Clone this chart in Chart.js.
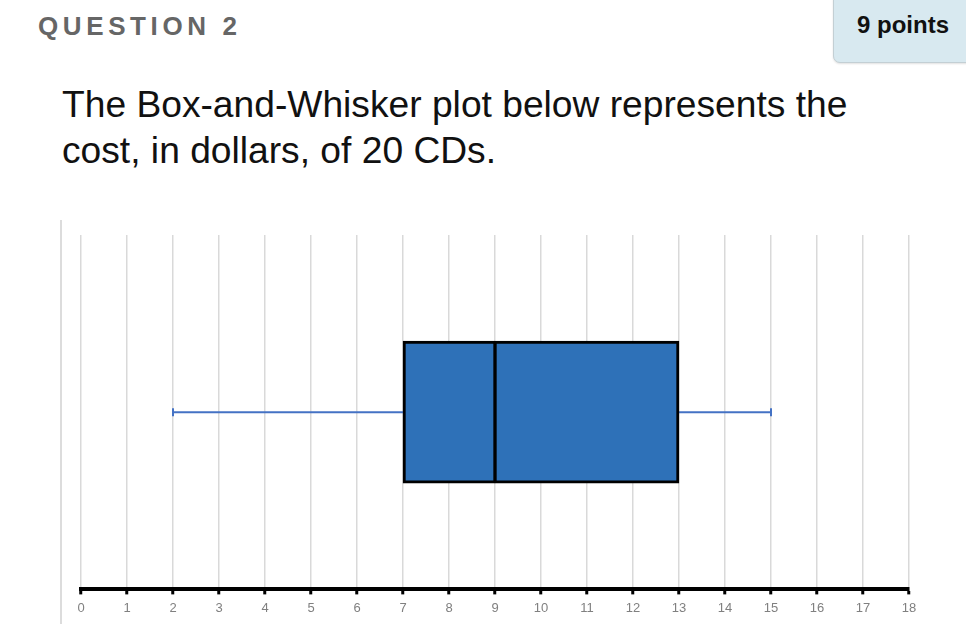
<!DOCTYPE html>
<html>
<head>
<meta charset="utf-8">
<script src="https://cdn.jsdelivr.net/npm/chart.js@4/dist/chart.umd.min.js"></script>
<style>
  html, body { margin: 0; padding: 0; background: #fff; width: 966px; height: 624px; overflow: hidden; }
  body { position: relative; font-family: "Liberation Sans", Arial, Helvetica, sans-serif; }
  .qhead { position: absolute; left: 38px; top: 11px; font-size: 26px; line-height: 30px; font-weight: bold; color: #666; letter-spacing: 4.6px; }
  .points { position: absolute; left: 833px; top: -8px; width: 150px; height: 69px; background: #d8e9f0; border: 1px solid #c3cfd4; border-radius: 7px; box-shadow: 0 1px 2px rgba(0,0,0,0.12); }
  .points span { position: absolute; left: 23px; top: 18px; font-size: 24px; font-weight: bold; color: #111; }
  .question { position: absolute; left: 62px; top: 81px; font-size: 37.2px; line-height: 46px; color: #111; }
  .frame { position: absolute; left: 60px; top: 220px; width: 904px; height: 404px; border-left: 2px solid #dcdcdc; }
  .frame canvas { position: absolute; left: 0; top: 0; }
</style>
</head>
<body>
<div class="qhead">QUESTION 2</div>
<div class="points"><span>9 points</span></div>
<div class="question">The Box-and-Whisker plot below represents the<br>cost, in dollars, of 20 CDs.</div>
<div class="frame"><canvas id="c" width="904" height="404"></canvas></div>
<script>
// Five-number summary of CD prices (dollars)
const category = ['CDs'];
const minimum = [2];
const lowerQuartile = [7];
const median = [9];
const upperQuartile = [13];
const maximum = [15];
const tickValues = [0, 1, 2, 3, 4, 5, 6, 7, 8, 9, 10, 11, 12, 13, 14, 15, 16, 17, 18];

const boxBlue = '#2e71b8';
const whiskerBlue = '#4472c4';

const whiskerPoint = (x) => ({ x: x, y: category[0] });

// Box is split at the median into two halves that share one slot
const boxHalf = (data, borderWidth) => ({
  type: 'bar',
  data: data,
  backgroundColor: boxBlue,
  borderColor: '#000',
  borderWidth: borderWidth,
  borderSkipped: false,
  barThickness: 142,
  grouped: false,
  order: 1
});

new Chart(document.getElementById('c'), {
  type: 'bar',
  data: {
    labels: category,
    datasets: [
      {
        type: 'line',
        label: 'lower whisker',
        data: [whiskerPoint(minimum[0]), whiskerPoint(lowerQuartile[0])],
        borderColor: whiskerBlue,
        borderWidth: 2,
        pointStyle: 'line',
        rotation: 90,
        pointRadius: [4, 0],
        pointBorderColor: whiskerBlue,
        pointBorderWidth: 2,
        order: 3
      },
      {
        type: 'line',
        label: 'upper whisker',
        data: [whiskerPoint(upperQuartile[0]), whiskerPoint(maximum[0])],
        borderColor: whiskerBlue,
        borderWidth: 2,
        pointStyle: 'line',
        rotation: 90,
        pointRadius: [0, 4],
        pointBorderColor: whiskerBlue,
        pointBorderWidth: 2,
        order: 3
      },
      boxHalf(category.map((_, i) => [lowerQuartile[i], median[i]]), { top: 3, bottom: 3, left: 3, right: 2 }),
      boxHalf(category.map((_, i) => [median[i], upperQuartile[i]]), { top: 3, bottom: 3, left: 2, right: 3 })
    ]
  },
  options: {
    indexAxis: 'y',
    responsive: false,
    animation: false,
    events: [],
    layout: { padding: { left: 19, right: 57, top: 15, bottom: 2 } },
    plugins: { legend: { display: false }, tooltip: { enabled: false } },
    scales: {
      x: {
        type: 'linear',
        min: tickValues[0],
        max: tickValues[tickValues.length - 1],
        afterBuildTicks: (axis) => { axis.ticks = tickValues.map(v => ({ value: v })); },
        grid: {
          color: '#d9d9d9',
          lineWidth: 1.5,
          tickColor: '#000',
          tickLength: 5,
          tickWidth: 3
        },
        border: { color: '#000', width: 4 },
        ticks: {
          color: '#808080',
          font: { family: '"Liberation Sans", Arial, sans-serif', size: 13 },
          padding: 6,
          maxRotation: 0
        }
      },
      y: {
        type: 'category',
        display: false
      }
    }
  }
});
</script>
</body>
</html>
